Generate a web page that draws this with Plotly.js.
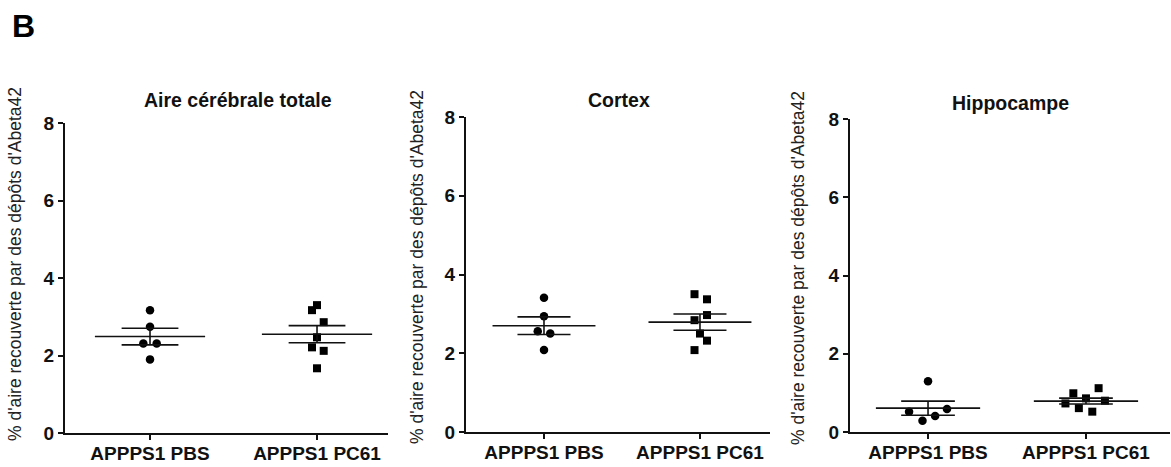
<!DOCTYPE html>
<html>
<head>
<meta charset="utf-8">
<script src="https://cdn.plot.ly/plotly-3.0.1.min.js"></script>
<style>html,body{margin:0;padding:0;background:#fff;}#chart{width:1171px;height:467px;}</style>
</head>
<body>
<div id="chart"></div>
<script>
// ---- data ----
const categories = ["APPPS1 PBS", "APPPS1 PC61"];
const panelTitles = ["Aire cérébrale totale", "Cortex", "Hippocampe"];
const yTitle = "% d'aire recouverte par des dépôts d'Abeta42";
const yTicks = [0, 2, 4, 6, 8];

// individual animals (values) and their horizontal jitter (in category units)
const totalPBS = [3.17, 2.74, 2.31, 2.31, 1.90];
const totalPBSJitter = [0, 0, -0.04, 0.04, 0];
const totalPC61 = [3.30, 3.17, 2.86, 2.47, 2.21, 2.12, 1.67];
const totalPC61Jitter = [0, -0.03, 0.04, 0, -0.03, 0.04, 0];

const cortexPBS = [3.41, 2.94, 2.56, 2.50, 2.08];
const cortexPBSJitter = [0, 0, -0.04, 0.04, 0];
const cortexPC61 = [3.50, 3.37, 2.97, 2.84, 2.50, 2.32, 2.08];
const cortexPC61Jitter = [-0.035, 0.045, 0.045, -0.035, 0, 0.045, -0.035];

const hippoPBS = [1.30, 0.52, 0.59, 0.41, 0.29];
const hippoPBSJitter = [0, -0.12, 0.12, 0.045, -0.035];
const hippoPC61 = [0.99, 1.12, 0.73, 0.86, 0.80, 0.61, 0.52];
const hippoPC61Jitter = [-0.08, 0.08, -0.13, 0, 0.12, -0.045, 0.04];

// mean and SEM as drawn
const totalMean = [2.49, 2.55];
const totalSEM = [0.215, 0.22];
const cortexMean = [2.70, 2.79];
const cortexSEM = [0.225, 0.205];
const hippoMean = [0.61, 0.79];
const hippoSEM = [0.18, 0.075];

// ---- build ----
const panels = [
  {pbs: totalPBS, pbsJ: totalPBSJitter, pc: totalPC61, pcJ: totalPC61Jitter, mean: totalMean, sem: totalSEM},
  {pbs: cortexPBS, pbsJ: cortexPBSJitter, pc: cortexPC61, pcJ: cortexPC61Jitter, mean: cortexMean, sem: cortexSEM},
  {pbs: hippoPBS, pbsJ: hippoPBSJitter, pc: hippoPC61, pcJ: hippoPC61Jitter, mean: hippoMean, sem: hippoSEM}
];

const W = 1171, H = 467;
const FONT = 'Liberation Sans, Arial, sans-serif';
const geom = [
  {x0: 65, x1: 388, yb: 433, yt: 123, xr: [-0.509, 1.425], title: [238, 100], ytitle: [15, 264]},
  {x0: 466, x1: 770, yb: 432, yt: 117, xr: [-0.5, 1.449], title: [619, 100], ytitle: [417, 267]},
  {x0: 850, x1: 1170, yb: 432, yt: 119, xr: [-0.494, 1.532], title: [1010, 103], ytitle: [798, 268]}
];

const MEAN_HALF = 0.33, SEM_HALF = 0.17;
const traces = [];
const layout = {
  width: W, height: H,
  margin: {l: 0, r: 0, t: 0, b: 0},
  paper_bgcolor: '#fff', plot_bgcolor: '#fff',
  showlegend: false,
  font: {family: FONT, color: '#111'},
  annotations: [
    {text: '<b>B</b>', x: 23 / W, y: 1 - 26 / H, xref: 'paper', yref: 'paper', showarrow: false,
     xanchor: 'center', yanchor: 'middle', font: {size: 32, color: '#000', family: FONT}}
  ]
};

panels.forEach((p, i) => {
  const n = i === 0 ? '' : String(i + 1);
  const xa = 'x' + n, ya = 'y' + n;
  const g = geom[i];
  traces.push({
    x: p.pbs.map((v, k) => 0 + p.pbsJ[k]), y: p.pbs, xaxis: xa, yaxis: ya,
    type: 'scatter', mode: 'markers', cliponaxis: false,
    marker: {symbol: 'circle', size: 8.5, color: '#000'}
  });
  traces.push({
    x: p.pc.map((v, k) => 1 + p.pcJ[k]), y: p.pc, xaxis: xa, yaxis: ya,
    type: 'scatter', mode: 'markers', cliponaxis: false,
    marker: {symbol: 'square', size: 8, color: '#000'}
  });
  // mean + SEM lines
  const lx = [], ly = [];
  p.mean.forEach((m, c) => {
    const s = p.sem[c];
    lx.push(c - MEAN_HALF, c + MEAN_HALF, null); ly.push(m, m, null);
    lx.push(c - SEM_HALF, c + SEM_HALF, null); ly.push(m + s, m + s, null);
    lx.push(c - SEM_HALF, c + SEM_HALF, null); ly.push(m - s, m - s, null);
    lx.push(c, c, null); ly.push(m - s, m + s, null);
  });
  traces.push({x: lx, y: ly, xaxis: xa, yaxis: ya, type: 'scatter', mode: 'lines',
    line: {color: '#111', width: 1.6}, connectgaps: false, hoverinfo: 'skip'});

  layout['xaxis' + n] = {
    domain: [g.x0 / W, g.x1 / W], anchor: ya, range: g.xr,
    tickmode: 'array', tickvals: [0, 1], ticktext: categories,
    ticks: 'outside', ticklen: 5, tickwidth: 2, tickcolor: '#111',
    ticklabelstandoff: -3,
    showline: true, linecolor: '#111', linewidth: 2,
    showgrid: false, zeroline: false, fixedrange: true,
    tickfont: {size: 19, weight: 'bold', color: '#111', family: FONT}
  };
  layout['yaxis' + n] = {
    domain: [1 - g.yb / H, 1 - g.yt / H], anchor: xa, range: [0, 8],
    tickmode: 'array', tickvals: yTicks,
    ticks: 'outside', ticklen: 5, tickwidth: 2, tickcolor: '#111',
    showline: true, linecolor: '#111', linewidth: 2,
    showgrid: false, zeroline: false, fixedrange: true,
    tickfont: {size: 19, weight: 'bold', color: '#111', family: FONT}
  };
  layout.annotations.push({
    text: '<b>' + panelTitles[i] + '</b>', x: g.title[0] / W, y: 1 - g.title[1] / H,
    xref: 'paper', yref: 'paper', showarrow: false, xanchor: 'center', yanchor: 'middle',
    font: {size: 19.5, color: '#111', family: FONT}
  });
  layout.annotations.push({
    text: yTitle, x: g.ytitle[0] / W, y: 1 - g.ytitle[1] / H, textangle: -90,
    xref: 'paper', yref: 'paper', showarrow: false, xanchor: 'center', yanchor: 'middle',
    font: {size: 17.5, color: '#222', family: FONT}
  });
});

Plotly.newPlot('chart', traces, layout, {staticPlot: true, displayModeBar: false});
</script>
</body>
</html>
